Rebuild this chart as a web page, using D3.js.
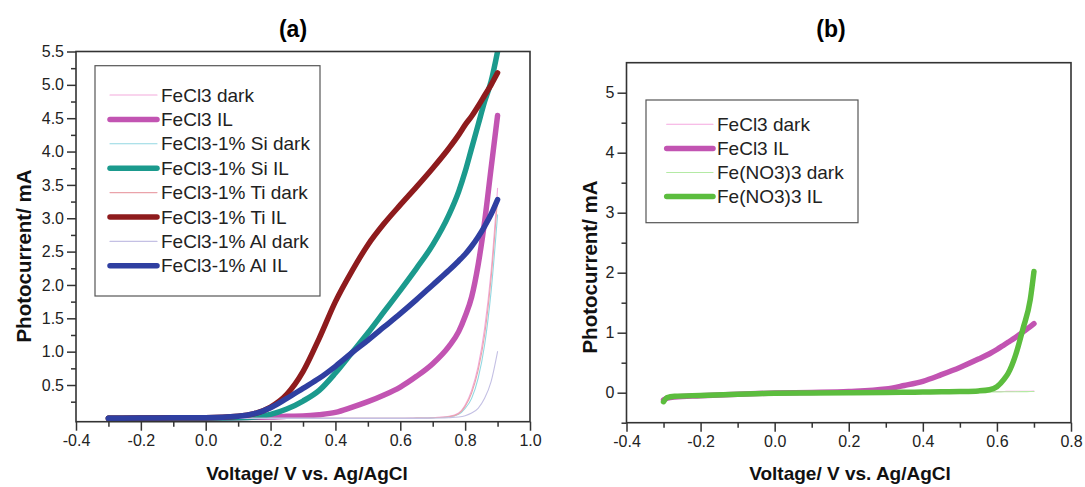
<!DOCTYPE html>
<html>
<head>
<meta charset="utf-8">
<script src="https://cdn.jsdelivr.net/npm/d3@7"></script>
<style>
  body { margin: 0; background: #fff; }
  text { font-family: "Liberation Sans", Arial, sans-serif; }
</style>
</head>
<body>
<div id="grafico"></div>
<script>
const WIDTH = 1085;
const HEIGHT = 487;

// ---- panel (a) data: voltage grid and currents (mA)
const voltsA = [-0.3, -0.2, -0.1, 0, 0.1, 0.15, 0.2, 0.25, 0.3, 0.35, 0.4, 0.45, 0.5,
                0.55, 0.6, 0.65, 0.7, 0.75, 0.78, 0.8, 0.82, 0.84, 0.86, 0.88, 0.9];
const fecl3Dark = [0, 0, 0, 0, 0, 0, 0, 0, 0, 0, 0, 0, 0,
                   0, 0, 0.005, 0.01, 0.03, 0.08, 0.2, 0.42, 0.78, 1.35, 2.2, 3.45];
const fecl3IL   = [0, 0.002, 0.003, 0.005, 0.01, 0.015, 0.02, 0.03, 0.035, 0.055, 0.09, 0.165, 0.25,
                   0.35, 0.47, 0.63, 0.82, 1.08, 1.3, 1.53, 1.82, 2.3, 2.95, 3.75, 4.54];
const siDark    = [0, 0, 0, 0, 0, 0, 0, 0, 0, 0, 0, 0, 0,
                   0, 0, 0.003, 0.008, 0.02, 0.06, 0.15, 0.3, 0.6, 1.1, 1.9, 3.05];
const siIL      = [0, 0.003, 0.004, 0.005, 0.01, 0.02, 0.06, 0.14, 0.26, 0.42, 0.68, 0.98, 1.28,
                   1.6, 1.92, 2.25, 2.6, 3.05, 3.4, 3.7, 4.05, 4.4, 4.75, 5.05, 5.5];
const tiDark    = [0, 0, 0, 0, 0, 0, 0, 0, 0, 0, 0, 0, 0,
                   0, 0, 0.004, 0.01, 0.025, 0.07, 0.18, 0.38, 0.72, 1.25, 2.1, 3.3];
const tiIL      = [0, 0.005, 0.008, 0.01, 0.03, 0.07, 0.17, 0.36, 0.7, 1.2, 1.75, 2.2, 2.6,
                   2.92, 3.2, 3.47, 3.75, 4.05, 4.25, 4.4, 4.53, 4.68, 4.84, 5.0, 5.18];
const alDark    = [0, 0, 0, 0, 0, 0, 0, 0, 0, 0, 0, 0, 0,
                   0, 0, 0, 0.005, 0.01, 0.02, 0.04, 0.08, 0.15, 0.3, 0.55, 1.0];
const alIL      = [0, 0.005, 0.008, 0.01, 0.03, 0.07, 0.16, 0.3, 0.45, 0.6, 0.78, 0.98, 1.17,
                   1.37, 1.57, 1.78, 2.0, 2.22, 2.36, 2.46, 2.58, 2.72, 2.88, 3.06, 3.28];

const labelsA = ["FeCl3 dark", "FeCl3 IL", "FeCl3-1% Si dark", "FeCl3-1% Si IL",
                 "FeCl3-1% Ti dark", "FeCl3-1% Ti IL", "FeCl3-1% Al dark", "FeCl3-1% Al IL"];
const colorsA = ["#f3a9dc", "#c254b2", "#92d8e2", "#1b9a8d",
                 "#eaa3aa", "#8e1b1d", "#c4c0e4", "#2f3fa1"];
const valuesA = [fecl3Dark, fecl3IL, siDark, siIL, tiDark, tiIL, alDark, alIL];

// ---- panel (b) data
const voltsB = [-0.3, -0.29, -0.27, -0.2, -0.1, 0, 0.1, 0.2, 0.3, 0.35, 0.4, 0.45, 0.5,
                0.55, 0.58, 0.6, 0.62, 0.63, 0.65, 0.67, 0.69, 0.7];
const fecl3DarkB = [-0.1, -0.08, -0.07, -0.05, -0.03, -0.01, 0, 0.005, 0.01, 0.01, 0.012, 0.014, 0.016,
                    0.018, 0.019, 0.02, 0.021, 0.022, 0.023, 0.024, 0.025, 0.026];
const fecl3ILB   = [-0.12, -0.09, -0.07, -0.05, -0.025, -0.005, 0.005, 0.02, 0.06, 0.12, 0.19, 0.3, 0.42,
                    0.56, 0.65, 0.72, 0.8, 0.84, 0.92, 1.01, 1.1, 1.15];
const feno3DarkB = [-0.12, -0.08, -0.06, -0.04, -0.02, -0.01, -0.005, 0, 0.003, 0.005, 0.006, 0.008, 0.01,
                    0.012, 0.013, 0.014, 0.015, 0.016, 0.017, 0.018, 0.019, 0.02];
const feno3ILB   = [-0.15, -0.08, -0.06, -0.045, -0.025, -0.01, -0.005, 0, 0.005, 0.008, 0.01, 0.015, 0.02,
                    0.03, 0.05, 0.1, 0.23, 0.32, 0.62, 1.06, 1.55, 2.02];

const labelsB = ["FeCl3 dark", "FeCl3 IL", "Fe(NO3)3 dark", "Fe(NO3)3 IL"];
const colorsB = ["#f5a8e0", "#c254b2", "#b4eaa4", "#5cbd3e"];
const valuesB = [fecl3DarkB, fecl3ILB, feno3DarkB, feno3ILB];

const xTicksA = [-0.4, -0.2, 0.0, 0.2, 0.4, 0.6, 0.8, 1.0];
const yTicksA = [0.5, 1.0, 1.5, 2.0, 2.5, 3.0, 3.5, 4.0, 4.5, 5.0, 5.5];
const xTicksB = [-0.4, -0.2, 0.0, 0.2, 0.4, 0.6, 0.8];
const yTicksB = [0, 1, 2, 3, 4, 5];

let svg = d3.select("#grafico")
    .append("svg")
    .attr("width", WIDTH)
    .attr("height", HEIGHT);

function drawPanel(cfg) {
    let x = d3.scaleLinear().domain(cfg.xDomain).range([cfg.left, cfg.right]);
    let y = d3.scaleLinear().domain(cfg.yDomain).range([cfg.bottom, cfg.top]);

    let g = svg.append("g");

    // minor ticks first (no labels)
    g.append("g")
        .attr("transform", `translate(0,${cfg.bottom})`)
        .call(d3.axisBottom(x).tickValues(cfg.xMinor).tickSize(5).tickFormat(""))
        .call(a => a.select(".domain").remove());
    g.append("g")
        .attr("transform", `translate(${cfg.left},0)`)
        .call(d3.axisLeft(y).tickValues(cfg.yMinor).tickSize(5).tickFormat(""))
        .call(a => a.select(".domain").remove());

    let xa = g.append("g")
        .attr("transform", `translate(0,${cfg.bottom})`)
        .call(d3.axisBottom(x).tickValues(cfg.xTicks).tickSize(9).tickPadding(4)
            .tickFormat(d => d.toFixed(1)));
    let ya = g.append("g")
        .attr("transform", `translate(${cfg.left},0)`)
        .call(d3.axisLeft(y).tickValues(cfg.yTicks).tickSize(9).tickPadding(3)
            .tickFormat(cfg.yFormat));
    [xa, ya].forEach(a => {
        a.select(".domain").remove();
        a.selectAll("text").style("font-size", "16px").attr("fill", "#222");
    });
    g.selectAll(".tick line").attr("stroke", "#333").attr("stroke-width", 1.5);

    // clip so lines stop at the frame
    svg.append("clipPath").attr("id", cfg.id + "-clip")
        .append("rect")
        .attr("x", cfg.left).attr("y", cfg.top)
        .attr("width", cfg.right - cfg.left).attr("height", cfg.bottom - cfg.top);

    let line = d3.line()
        .x(d => x(d[0]))
        .y(d => y(d[1]))
        .curve(d3.curveMonotoneX);

    let lines = g.append("g").attr("clip-path", `url(#${cfg.id}-clip)`);
    cfg.values.forEach((vals, i) => {
        let thick = i % 2 == 1;
        lines.append("path")
            .datum(cfg.volts.map((v, j) => [v, vals[j]]))
            .attr("d", line)
            .attr("fill", "none")
            .attr("stroke", cfg.colors[i])
            .attr("stroke-width", thick ? 5.5 : 1.1)
            .attr("stroke-linecap", "round");
    });

    // frame
    g.append("rect")
        .attr("x", cfg.left).attr("y", cfg.top)
        .attr("width", cfg.right - cfg.left).attr("height", cfg.bottom - cfg.top)
        .attr("fill", "none")
        .attr("stroke", "#333")
        .attr("stroke-width", 1.6);

    // legend
    let lg = cfg.legend;
    g.append("rect")
        .attr("x", lg.x0).attr("y", lg.y0)
        .attr("width", lg.x1 - lg.x0).attr("height", lg.y1 - lg.y0)
        .attr("fill", "white")
        .attr("stroke", "#555")
        .attr("stroke-width", 1.2);
    cfg.labels.forEach((name, i) => {
        let yy = lg.row0 + i * lg.step;
        g.append("line")
            .attr("x1", lg.lineX0).attr("x2", lg.lineX1)
            .attr("y1", yy).attr("y2", yy)
            .attr("stroke", cfg.colors[i])
            .attr("stroke-width", i % 2 == 1 ? 5.5 : 1.1)
            .attr("stroke-linecap", "round");
        g.append("text")
            .attr("x", lg.textX).attr("y", yy)
            .attr("dy", "0.35em")
            .style("font-size", "19px")
            .attr("fill", "#222")
            .text(name);
    });

    // titles
    g.append("text")
        .attr("x", cfg.titleX).attr("y", 37)
        .attr("text-anchor", "middle")
        .style("font-size", "23px")
        .style("font-weight", "bold")
        .text(cfg.title);
    g.append("text")
        .attr("x", cfg.xLabelX).attr("y", 480)
        .attr("text-anchor", "middle")
        .style("font-size", "19px")
        .style("font-weight", "bold")
        .attr("fill", "#111")
        .text("Voltage/ V vs. Ag/AgCl");
    g.append("text")
        .attr("transform", `translate(${cfg.yLabelX},${cfg.yLabelY}) rotate(-90)`)
        .attr("text-anchor", "middle")
        .style("font-size", "20.5px")
        .style("font-weight", "bold")
        .attr("fill", "#111")
        .text("Photocurrent/ mA");
}

drawPanel({
    id: "pa", title: "(a)",
    left: 76, right: 530, top: 51.5, bottom: 421.7,
    xDomain: [-0.4, 1.0], yDomain: [-0.05, 5.5],
    xTicks: xTicksA, yTicks: yTicksA,
    xMinor: d3.range(-0.3, 1.0, 0.2), yMinor: d3.range(0.25, 5.5, 0.5),
    yFormat: d => d.toFixed(1),
    volts: voltsA, values: valuesA, colors: colorsA, labels: labelsA,
    legend: {x0: 95, x1: 320, y0: 65.7, y1: 296, row0: 95, step: 24.4,
             lineX0: 110, lineX1: 157, textX: 161},
    titleX: 293, xLabelX: 307, yLabelX: 31, yLabelY: 256
});

drawPanel({
    id: "pb", title: "(b)",
    left: 626.5, right: 1071, top: 62.7, bottom: 422.7,
    xDomain: [-0.4, 0.8], yDomain: [-0.5, 5.5],
    xTicks: xTicksB, yTicks: yTicksB,
    xMinor: d3.range(-0.3, 0.8, 0.2), yMinor: d3.range(-0.5, 5.5, 1),
    yFormat: d3.format("d"),
    volts: voltsB, values: valuesB, colors: colorsB, labels: labelsB,
    legend: {x0: 646, x1: 858, y0: 100, y1: 222.7, row0: 124.3, step: 24.1,
             lineX0: 666.7, lineX1: 713, textX: 717},
    titleX: 831, xLabelX: 850, yLabelX: 597, yLabelY: 267
});
</script>
</body>
</html>
